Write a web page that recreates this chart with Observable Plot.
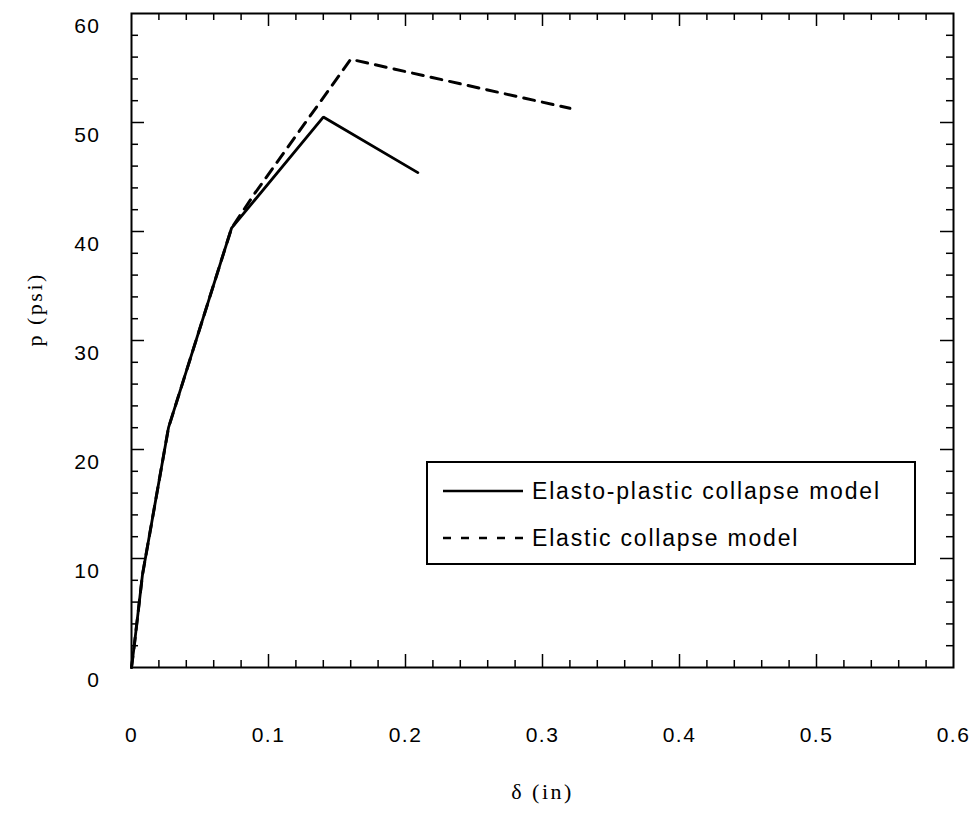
<!DOCTYPE html>
<html><head><meta charset="utf-8">
<script src="https://cdn.jsdelivr.net/npm/d3@7"></script>
<script src="https://cdn.jsdelivr.net/npm/@observablehq/plot@0.6"></script>
<style>
html,body{margin:0;padding:0;background:#fff;}
#wrap{position:relative;width:976px;height:814px;}
#wrap svg text{letter-spacing:1.5px;}
#wrap g[aria-label="text"] text{letter-spacing:2.5px;}
#legend{position:absolute;left:0;top:0;pointer-events:none;}
</style></head>
<body><div id="wrap"></div>
<script>
// ---- data ----
const seriesNames = ["Elasto-plastic collapse model", "Elastic collapse model"];
const elastoPlasticDelta = [0, 0.002, 0.008, 0.027, 0.073, 0.140, 0.209];
const elastoPlasticP     = [0, 2.0,   8.5,   22.0,  40.3,  50.5,  45.4];
const elasticDelta = [0, 0.002, 0.008, 0.027, 0.073, 0.090, 0.160, 0.320];
const elasticP     = [0, 2.0,   8.5,   22.0,  40.3,  43.5,  55.8,  51.3];
const xTicks = [0, 0.1, 0.2, 0.3, 0.4, 0.5, 0.6];
const xTickLabels = ["0", "0.1", "0.2", "0.3", "0.4", "0.5", "0.6"];
const yTicks = [0, 10, 20, 30, 40, 50, 60];
const yTickLabels = ["0", "10", "20", "30", "40", "50", "60"];
const xMinorTicks = [0.02,0.04,0.06,0.08,0.12,0.14,0.16,0.18,0.22,0.24,0.26,0.28,0.32,0.34,0.36,0.38,0.42,0.44,0.46,0.48,0.52,0.54,0.56,0.58];
const yMinorTicks = [2,4,6,8,12,14,16,18,22,24,26,28,32,34,36,38,42,44,46,48,52,54,56,58];
const xLabel = "δ (in)";
const yLabel = "p (psi)";

// ---- layout ----
const W = 976, H = 814, mL = 131, mR = 23, mT = 13, mB = 147;
const plotW = W - mL - mR, plotH = H - mT - mB;
const minorLen = 7, majorLen = 13;

const elastoData = elastoPlasticDelta.map((d, i) => ({delta: d, p: elastoPlasticP[i]}));
const elasticData = elasticDelta.map((d, i) => ({delta: d, p: elasticP[i]}));
const xMajorInner = xTicks.slice(1, -1);
const yMajorInner = yTicks.slice(1, -1);

const tickStyle = {stroke: "#000", strokeWidth: 1.5};
const serif = "'Liberation Serif', 'Times New Roman', serif";
const chart = Plot.plot({
  width: W, height: H,
  marginLeft: mL, marginRight: mR, marginTop: mT, marginBottom: mB,
  x: {domain: [0, 0.6]},
  y: {domain: [0, 60]},
  style: {fontFamily: "'Liberation Sans', Arial, sans-serif", fontSize: "21px", background: "#fff", color: "#000", overflow: "visible"},
  marks: [
    Plot.tickX(xMinorTicks, {x: d => d, insetTop: plotH - minorLen, ...tickStyle}),
    Plot.tickX(xMinorTicks, {x: d => d, insetBottom: plotH - minorLen, ...tickStyle}),
    Plot.tickX(xMajorInner, {x: d => d, insetTop: plotH - majorLen, ...tickStyle}),
    Plot.tickX(xMajorInner, {x: d => d, insetBottom: plotH - majorLen, ...tickStyle}),
    Plot.tickY(yMinorTicks, {y: d => d, insetRight: plotW - minorLen, ...tickStyle}),
    Plot.tickY(yMinorTicks, {y: d => d, insetLeft: plotW - minorLen, ...tickStyle}),
    Plot.tickY(yMajorInner, {y: d => d, insetRight: plotW - majorLen, ...tickStyle}),
    Plot.tickY(yMajorInner, {y: d => d, insetLeft: plotW - majorLen, ...tickStyle}),
    Plot.frame({stroke: "#000", strokeWidth: 2}),
    Plot.axisX({ticks: xTicks, tickFormat: d => xTickLabels[xTicks.indexOf(d)], tickSize: 0, tickPadding: 60, label: null, fontSize: 21}),
    Plot.axisY({ticks: yTicks, tickFormat: d => yTickLabels[yTicks.indexOf(d)], tickSize: 0, tickPadding: 31, dy: 13, label: null, fontSize: 21}),
    Plot.line(elastoData, {x: "delta", y: "p", stroke: "#000", strokeWidth: 2.8, strokeLinejoin: "miter"}),
    Plot.line(elasticData, {x: "delta", y: "p", stroke: "#000", strokeWidth: 3, strokeDasharray: "11,8"}),
    Plot.text([yLabel], {text: d => d, frameAnchor: "left", dx: -97, dy: 6, rotate: -90, fontFamily: serif, fontSize: 22}),
    Plot.text([xLabel], {text: d => d, frameAnchor: "bottom", dy: 131, fontFamily: serif, fontSize: 22})
  ]
});
const wrap = document.getElementById("wrap");
wrap.appendChild(chart);

// ---- legend (overlay) ----
const leg = d3.select(wrap).append("svg").attr("id", "legend").attr("width", W).attr("height", H);
leg.append("rect").attr("x", 427).attr("y", 462).attr("width", 488).attr("height", 102)
  .attr("fill", "#fff").attr("stroke", "#000").attr("stroke-width", 2);
const dashes = [null, "8,10"];
seriesNames.forEach((name, i) => {
  const y = 491 + i * 47;
  leg.append("line").attr("x1", 443).attr("x2", 523).attr("y1", y).attr("y2", y)
    .attr("stroke", "#000").attr("stroke-width", 2.5).attr("stroke-dasharray", dashes[i]);
  leg.append("text").attr("x", 532).attr("y", y).attr("dy", "0.35em")
    .attr("font-family", "'Liberation Sans', Arial, sans-serif").attr("font-size", 23)
    .style("letter-spacing", "1.8px").attr("fill", "#000").text(name);
});
</script>
</body></html>
